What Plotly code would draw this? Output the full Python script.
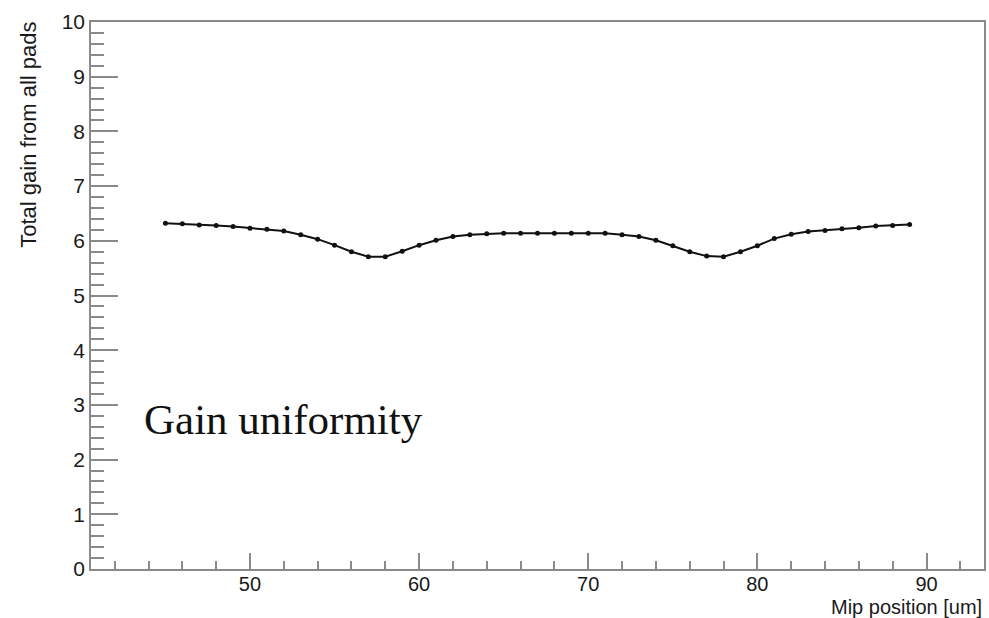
import plotly.graph_objects as go

# Mip position [um]
mip_position = list(range(45, 90))
# Total gain from all pads
total_gain = [
    6.32, 6.31, 6.29, 6.28, 6.26, 6.23, 6.21, 6.18, 6.11, 6.03,
    5.92, 5.80, 5.71, 5.71, 5.81, 5.92, 6.01, 6.08, 6.11, 6.13,
    6.14, 6.14, 6.14, 6.14, 6.14, 6.14, 6.14, 6.11, 6.08, 6.01,
    5.91, 5.80, 5.72, 5.71, 5.80, 5.91, 6.04, 6.12, 6.17, 6.19,
    6.22, 6.24, 6.27, 6.28, 6.30,
]
x_tickvals = [50, 60, 70, 80, 90]
y_tickvals = list(range(0, 11))

axis_col = "#8a8a8a"
font_col = "#1a1a1a"

fig = go.Figure()
fig.add_trace(go.Scatter(
    x=mip_position, y=total_gain, mode="lines+markers",
    line=dict(color="#111111", width=2),
    marker=dict(color="#111111", size=5),
    showlegend=False,
))

fig.add_annotation(
    x=43.6, y=2.74, xref="x", yref="y", text="Gain uniformity",
    showarrow=False, xanchor="left", yanchor="middle",
    font=dict(family="Liberation Serif", size=43, color="#111111"),
)
fig.add_annotation(
    x=1.0, y=-0.069, xref="paper", yref="paper", text="Mip position [um]",
    showarrow=False, xanchor="right", yanchor="middle",
    font=dict(family="Liberation Sans", size=20, color=font_col),
)
fig.add_annotation(
    x=-0.07, y=1.005, xref="paper", yref="paper", text="Total gain from all pads",
    showarrow=False, xanchor="center", yanchor="top", textangle=-90,
    font=dict(family="Liberation Sans", size=22, color=font_col),
)

fig.update_layout(
    width=989, height=618,
    margin=dict(l=91, r=3, t=22, b=49),
    paper_bgcolor="white", plot_bgcolor="white",
    font=dict(family="Liberation Sans", size=21, color=font_col),
    xaxis=dict(
        range=[40.6, 93.4], tickvals=x_tickvals, ticks="inside", ticklen=16,
        tickcolor=axis_col, tickwidth=1.5, showline=True, mirror=True,
        linecolor=axis_col, linewidth=1.5, showgrid=False, zeroline=False,
        minor=dict(dtick=2, tick0=0, ticks="inside", ticklen=8,
                   tickcolor=axis_col, tickwidth=1.5),
        tickfont=dict(size=20, color=font_col),
        ticklabelstandoff=-4,
    ),
    yaxis=dict(
        range=[0, 10], tickvals=y_tickvals, ticks="inside", ticklen=27,
        tickcolor=axis_col, tickwidth=1.5, showline=True, mirror=True,
        linecolor=axis_col, linewidth=1.5, showgrid=False, zeroline=False,
        minor=dict(dtick=0.2, tick0=0, ticks="inside", ticklen=13,
                   tickcolor=axis_col, tickwidth=1.5),
        tickfont=dict(size=21, color=font_col),
    ),
)

fig.write_html("out.html")
